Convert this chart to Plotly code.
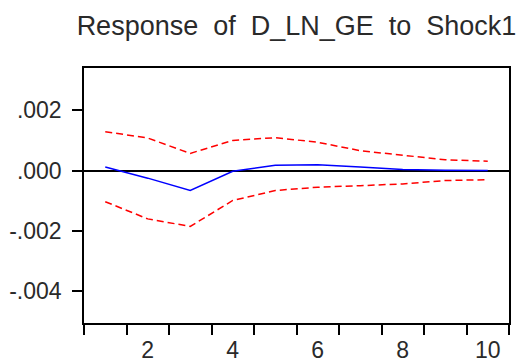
import plotly.graph_objects as go

periods = [1, 2, 3, 4, 5, 6, 7, 8, 9, 10]
response = [0.00012, -0.00025, -0.00066, -0.00002, 0.00018, 0.00019, 0.00012, 0.00004, 0.00001, 0.0]
upper = [0.00129, 0.00108, 0.00057, 0.00100, 0.00109, 0.00094, 0.00066, 0.00050, 0.00036, 0.00031]
lower = [-0.00103, -0.00160, -0.00185, -0.00099, -0.00066, -0.00055, -0.00050, -0.00044, -0.00033, -0.00030]
y_ticks = [0.002, 0.0, -0.002, -0.004]
y_labels = [".002", ".000", "-.002", "-.004"]
x_ticks = [2, 4, 6, 8, 10]
x_labels = ["2", "4", "6", "8", "10"]
x_bounds = [0.5 + k for k in range(11)]
title_text = "Response&nbsp;&nbsp;of&nbsp;&nbsp;D_LN_GE&nbsp;&nbsp;to&nbsp;&nbsp;Shock1"

FONT = "Liberation Sans, Arial, sans-serif"
TXT = "#2a2a2a"

fig = go.Figure()
fig.add_trace(go.Scatter(x=periods, y=upper, mode="lines",
                         line=dict(color="#ff0000", width=1.5, dash="7px,4px")))
fig.add_trace(go.Scatter(x=periods, y=lower, mode="lines",
                         line=dict(color="#ff0000", width=1.5, dash="7px,4px")))
fig.add_trace(go.Scatter(x=periods, y=response, mode="lines",
                         line=dict(color="#0000ff", width=1.5)))

fig.update_layout(
    width=517, height=360,
    margin=dict(l=84, r=8, t=68, b=37, autoexpand=False),
    paper_bgcolor="white", plot_bgcolor="white",
    showlegend=False,
    font=dict(family=FONT, color=TXT),
    title=dict(text=title_text, x=0.5, xref="paper",
               y=1 - 26 / 360, yref="container", yanchor="middle", xanchor="center",
               font=dict(family=FONT, size=27, color=TXT)),
)
fig.update_xaxes(
    range=[0.5, 10.5], showgrid=False, zeroline=False, automargin=False,
    showline=True, mirror=True, linecolor="black", linewidth=1.5,
    tickvals=x_ticks, ticktext=x_labels, ticks="outside", ticklen=10,
    tickcolor="rgba(0,0,0,0)", tickfont=dict(size=23, color=TXT),
    ticklabelstandoff=-4,
    minor=dict(tickvals=x_bounds, ticks="outside", ticklen=10, tickcolor="black", tickwidth=1.5),
)
fig.update_yaxes(
    range=[-0.00505, 0.0034], showgrid=False, automargin=False,
    zeroline=True, zerolinecolor="black", zerolinewidth=1.5,
    showline=True, mirror=True, linecolor="black", linewidth=1.5,
    tickvals=y_ticks, ticktext=y_labels, ticks="outside", ticklen=10,
    tickcolor="black", tickwidth=1.5, tickfont=dict(size=23, color=TXT),
    ticklabelstandoff=6,
)

fig.write_html("out.html")
